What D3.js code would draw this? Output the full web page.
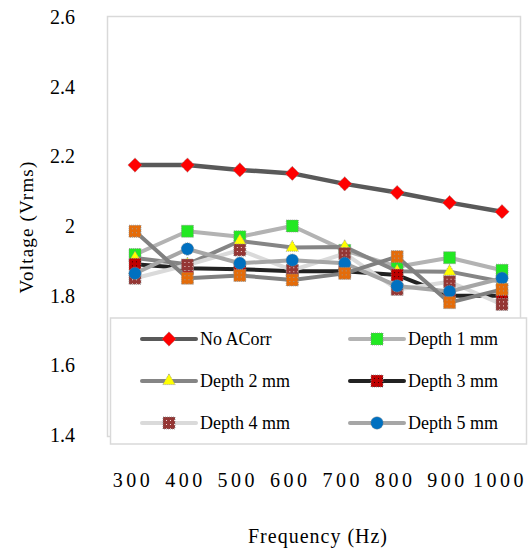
<!DOCTYPE html>
<html>
<head>
<meta charset="utf-8">
<script src="https://cdn.jsdelivr.net/npm/d3@7"></script>
<style>
  body { margin: 0; background: #fff; }
  svg text { font-family: 'Times New Roman', 'Liberation Serif', 'DejaVu Serif', serif; fill: #000; }
</style>
</head>
<body>
<div id="chart"></div>
<script>
// data
var freqs = [300, 400, 500, 600, 700, 800, 900, 1000];
var yTicks = [1.4, 1.6, 1.8, 2, 2.2, 2.4, 2.6];

var noACorr = [2.175, 2.175, 2.161, 2.151, 2.121, 2.096, 2.067, 2.041];
var depth1 = [1.918, 1.985, 1.969, 2.000, 1.930, 1.883, 1.909, 1.873];
var depth2 = [1.908, 1.890, 1.957, 1.938, 1.940, 1.870, 1.869, 1.840];
var depth3 = [1.890, 1.879, 1.876, 1.870, 1.870, 1.859, 1.800, 1.800];
var depth4 = [1.850, 1.888, 1.931, 1.873, 1.921, 1.818, 1.840, 1.775];
var depth5 = [1.864, 1.934, 1.893, 1.902, 1.893, 1.828, 1.812, 1.850];
var depth6 = [1.985, 1.850, 1.858, 1.845, 1.864, 1.912, 1.780, 1.818];

var series = [
  {name: "No ACorr", values: noACorr, line: "#595959", marker: "diamond", fill: "#ff0000", legend: true},
  {name: "Depth 1 mm", values: depth1, line: "#b3b3b3", marker: "square", fill: "#22e822", legend: true},
  {name: "Depth 2 mm", values: depth2, line: "#858585", marker: "triangle", fill: "#ffff00", legend: true},
  {name: "Depth 3 mm", values: depth3, line: "#222222", marker: "square", fill: "url(#pat3)", legend: true},
  {name: "Depth 4 mm", values: depth4, line: "#dadada", marker: "square", fill: "url(#pat4)", legend: true},
  {name: "Depth 5 mm", values: depth5, line: "#a6a6a6", marker: "circle", fill: "#0070c0", legend: true},
  {name: "Depth 6 mm", values: depth6, line: "#808080", marker: "square", fill: "url(#pat6)", legend: false}
];

var width = 531, height = 548;

var svg = d3.select("#chart").append("svg")
    .attr("width", width)
    .attr("height", height);

// fill patterns for the textured squares
var defs = svg.append("defs");
function makePattern(id, bg, dot) {
  var p = defs.append("pattern")
      .attr("id", id)
      .attr("patternUnits", "userSpaceOnUse")
      .attr("width", 4).attr("height", 4);
  p.append("rect").attr("width", 4).attr("height", 4).attr("fill", bg);
  p.append("rect").attr("x", 1).attr("y", 1).attr("width", 1).attr("height", 1).attr("fill", dot);
}
makePattern("pat3", "#c00000", "#300000");
makePattern("pat4", "#943634", "#f2dcdb");
makePattern("pat6", "#e46c0a", "#9a9a9a");

var x = d3.scalePoint().domain(freqs).range([135, 502]);
var y = d3.scaleLinear().domain([1.4, 2.6]).range([435, 17]);

// plot area border
svg.append("rect")
    .attr("x", 107.5).attr("y", 16.5)
    .attr("width", 413).attr("height", 420)
    .attr("fill", "none")
    .attr("stroke", "#d9d9d9")
    .attr("stroke-width", 1.5);

// y tick labels
svg.append("g").selectAll("text")
    .data(yTicks).enter()
    .append("text")
    .attr("x", 75)
    .attr("y", function(d) { return y(d); })
    .attr("dy", "0.35em")
    .attr("text-anchor", "end")
    .style("font-size", "20px")
    .text(function(d) { return d; });

// x tick labels
svg.append("g").selectAll("text")
    .data(freqs).enter()
    .append("text")
    .attr("x", function(d) { return x(d) - 2; })
    .attr("y", 487)
    .attr("text-anchor", "middle")
    .style("font-size", "20px")
    .style("letter-spacing", "3.5px")
    .text(function(d) { return d; });

// axis titles
svg.append("text")
    .attr("transform", "translate(33,227) rotate(-90)")
    .attr("text-anchor", "middle")
    .style("font-size", "19px")
    .style("letter-spacing", "1.2px")
    .text("Voltage (Vrms)");

svg.append("text")
    .attr("x", 318)
    .attr("y", 543)
    .attr("text-anchor", "middle")
    .style("font-size", "20px")
    .style("letter-spacing", "1px")
    .text("Frequency (Hz)");

function drawMarker(g, type, fill, cx, cy) {
  var m;
  if (type == "diamond") {
    m = g.append("path").attr("d", d3.symbol(d3.symbolDiamond2, 130)());
  } else if (type == "triangle") {
    m = g.append("path").attr("d", d3.symbol(d3.symbolTriangle2, 110)());
  } else if (type == "circle") {
    m = g.append("circle").attr("r", 6.2);
  } else {
    m = g.append("rect").attr("x", -6).attr("y", -6).attr("width", 12).attr("height", 12);
  }
  m.attr("transform", "translate(" + cx + "," + cy + ")")
    .attr("fill", fill)
    .attr("stroke", "#8c8c8c")
    .attr("stroke-width", 0.8)
    .attr("stroke-dasharray", "1,1");
}

var valueline = d3.line()
    .x(function(d, i) { return x(freqs[i]); })
    .y(function(d) { return y(d); });

// draw each series, line then markers
series.forEach(function(s) {
  var g = svg.append("g").attr("class", "series");
  g.append("path")
      .attr("d", valueline(s.values))
      .attr("fill", "none")
      .attr("stroke", s.line)
      .attr("stroke-width", s.name == "No ACorr" ? 4.5 : 4)
      .attr("stroke-linejoin", "round");
  s.values.forEach(function(v, i) {
    drawMarker(g, s.marker, s.fill, x(freqs[i]), y(v));
  });
});

// legend
var legend = svg.append("g");
legend.append("rect")
    .attr("x", 110.5).attr("y", 318)
    .attr("width", 416).attr("height", 126)
    .attr("fill", "#fff")
    .attr("stroke", "#d9d9d9")
    .attr("stroke-width", 1.5);

var legendItems = series.filter(function(s) { return s.legend; });
var colX = [142, 350];
var rowY = [339, 381, 423];

legendItems.forEach(function(s, i) {
  var lx = colX[i % 2], ly = rowY[Math.floor(i / 2)];
  var g = legend.append("g");
  g.append("line")
      .attr("x1", lx).attr("x2", lx + 54)
      .attr("y1", ly).attr("y2", ly)
      .attr("stroke", s.line)
      .attr("stroke-width", 4)
      .attr("stroke-linecap", "round");
  drawMarker(g, s.marker, s.fill, lx + 27, ly);
  g.append("text")
      .attr("x", lx + 58)
      .attr("y", ly)
      .attr("dy", "0.35em")
      .style("font-size", "18px")
      .text(s.name);
});
</script>
</body>
</html>
